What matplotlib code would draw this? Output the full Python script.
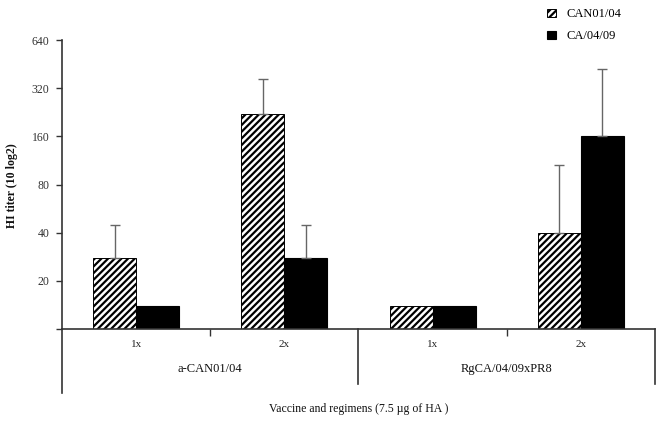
import matplotlib.pyplot as plt
import numpy as np

plt.rcParams['font.family'] = ['Liberation Serif', 'DejaVu Serif']
plt.rcParams['hatch.linewidth'] = 1.6

regimens = ['1x', '2x', '1x', '2x']
vaccines = ['a-CAN01/04', 'RgCA/04/09xPR8']
series_names = ['CAN01/04', 'CA/04/09']

can_vals = [28, 222, 14, 40]
can_err = [17, 143, 0, 66]
ca_vals = [14, 28, 14, 160]
ca_err = [0, 17, 0, 262]

yticks = [10, 20, 40, 80, 160, 320, 640]
ylabels = ['', '20', '40', '80', '160', '320', '640']

fig = plt.figure(figsize=(6.61, 4.21), dpi=100)
ax = fig.add_axes([0.0938, 0.2185, 0.897, 0.686])

x = np.arange(len(regimens))
w = 0.29
axis_col = '#333333'

b1 = ax.bar(x - w / 2, can_vals, w, color='white', edgecolor='black',
            hatch='/////', linewidth=0.7, label=series_names[0])
b2 = ax.bar(x + w / 2, ca_vals, w, color='black', edgecolor='black',
            linewidth=0.8, label=series_names[1])

# upper error bars only
for xs, vals, errs in [(x - w / 2, can_vals, can_err), (x + w / 2, ca_vals, ca_err)]:
    for xi, v, e in zip(xs, vals, errs):
        if e > 0:
            ax.errorbar(xi, v, yerr=[[0], [e]], fmt='none', ecolor='#666666',
                        elinewidth=1, capsize=3.5, capthick=1)

ax.set_yscale('log', base=2)
ax.set_ylim(10, 640)
ax.set_xlim(-0.5, 3.5)
ax.set_yticks(yticks)
ax.set_yticklabels(ylabels)
ax.yaxis.set_minor_locator(plt.NullLocator())
ax.tick_params(axis='y', direction='out', length=4, width=1, color=axis_col,
               labelsize=8.5, pad=5, labelcolor='#333333')
ax.set_xticks([0.5, 2.5])
ax.set_xticklabels([])
ax.tick_params(axis='x', direction='out', length=5, width=1, color=axis_col)

for s in ['top', 'right']:
    ax.spines[s].set_visible(False)
for s in ['left', 'bottom']:
    ax.spines[s].set_color(axis_col)
    ax.spines[s].set_linewidth(1.2)

# lower category lines
tr = ax.get_xaxis_transform()
ax.plot([-0.5, -0.5], [0, -0.22], transform=tr, color=axis_col, lw=1.2, clip_on=False)
ax.plot([1.5, 1.5], [0, -0.19], transform=tr, color=axis_col, lw=1.2, clip_on=False)
ax.plot([3.5, 3.5], [0, -0.19], transform=tr, color=axis_col, lw=1.2, clip_on=False)

for xi, lab in zip(x, regimens):
    ax.text(xi, -0.055, lab, transform=tr, ha='center', va='center', fontsize=8,
            color='#222222')
for gi, lab in enumerate(vaccines):
    ax.text(gi * 2 + 0.5, -0.138, lab, transform=tr, ha='center', va='center',
            fontsize=9, color='#111111')

fig.text(0.542, 0.028, 'Vaccine and regimens (7.5 \u00b5g of HA )', ha='center',
         va='center', fontsize=8.5, color='#111111')
fig.text(0.018, 0.56, 'HI titer (10 log2)', rotation=90, ha='center', va='center',
         fontsize=8.5, fontweight='bold', color='#111111')

fig.legend(handles=[b1, b2], loc='upper left', bbox_to_anchor=(0.818, 0.995),
           frameon=False, fontsize=9, handlelength=0.7, handleheight=0.7,
           handletextpad=0.9, labelspacing=0.8, borderpad=0)

fig.savefig('out.png', dpi=100)
